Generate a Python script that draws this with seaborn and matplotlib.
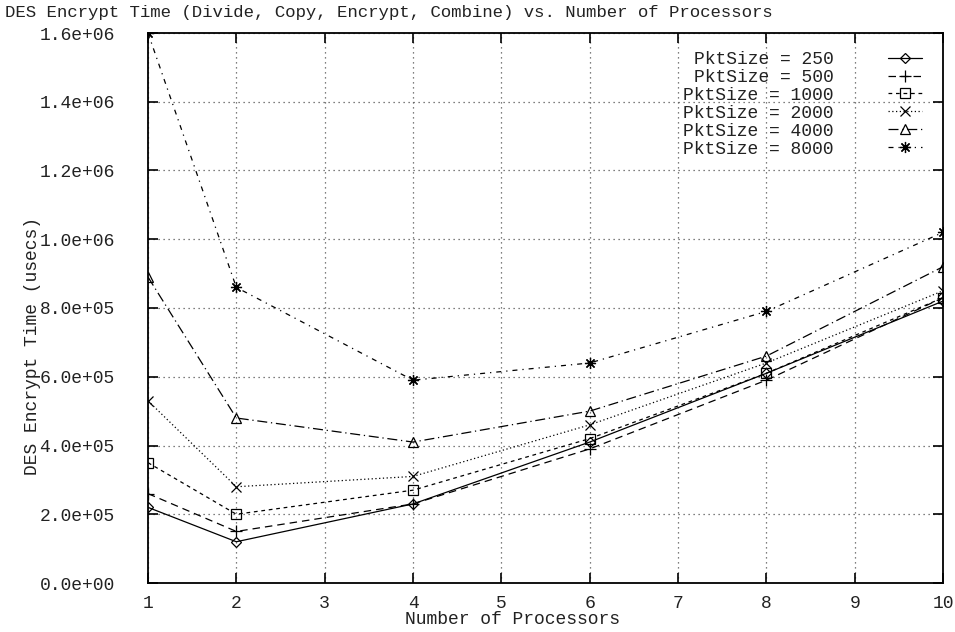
import matplotlib
matplotlib.use("Agg")
import matplotlib.pyplot as plt
import seaborn as sns
import numpy as np
import pandas as pd
from matplotlib.ticker import FormatStrFormatter, MultipleLocator

processors = [1, 2, 4, 6, 8, 10]
pkt_labels = ["PktSize = 250", "PktSize = 500", "PktSize = 1000",
              "PktSize = 2000", "PktSize = 4000", "PktSize = 8000"]
t250 = [2.2e5, 1.2e5, 2.3e5, 4.1e5, 6.1e5, 8.2e5]
t500 = [2.6e5, 1.5e5, 2.3e5, 3.9e5, 5.9e5, 8.3e5]
t1000 = [3.5e5, 2.0e5, 2.7e5, 4.2e5, 6.1e5, 8.3e5]
t2000 = [5.3e5, 2.8e5, 3.1e5, 4.6e5, 6.4e5, 8.5e5]
t4000 = [8.9e5, 4.8e5, 4.1e5, 5.0e5, 6.6e5, 9.2e5]
t8000 = [1.6e6, 8.6e5, 5.9e5, 6.4e5, 7.9e5, 1.02e6]
series = [t250, t500, t1000, t2000, t4000, t8000]

title = "DES Encrypt Time (Divide, Copy, Encrypt, Combine) vs. Number of Processors"
xlabel = "Number of Processors"
ylabel = "DES Encrypt Time (usecs)"

sns.set_theme(style="ticks")
plt.rcParams['font.family'] = ['Liberation Mono', 'DejaVu Sans Mono']

styles = [
    dict(marker="D", markersize=5, markerfacecolor="none", linestyle="-"),
    dict(marker="+", markersize=8, linestyle=(0, (6, 4))),
    dict(marker="s", markersize=7, markerfacecolor="none", linestyle=(0, (3, 3))),
    dict(marker="x", markersize=7, linestyle=(0, (1, 2))),
    dict(marker="^", markersize=7, markerfacecolor="none", linestyle=(0, (8, 3, 1, 3))),
    dict(marker=(8, 2, 0), markersize=8, linestyle=(0, (4, 4, 1, 4))),
]

W, H = 955, 632
fig = plt.figure(figsize=(W / 100, H / 100), dpi=100)
left, right, top, bottom = 148, 943, 33, 583
ax = fig.add_axes([left / W, 1 - bottom / H, (right - left) / W, (bottom - top) / H])

for lab, vals, st in zip(pkt_labels, series, styles):
    df = pd.DataFrame({"p": processors, "t": vals})
    sns.lineplot(data=df, x="p", y="t", ax=ax, color="black", linewidth=0.9,
                 markeredgecolor="black", markeredgewidth=0.9, label=lab, **st)

ax.set_xlim(1, 10)
ax.set_ylim(0, 1.6e6)
ax.xaxis.set_major_locator(MultipleLocator(1))
ax.yaxis.set_major_locator(MultipleLocator(2e5))
ax.yaxis.set_major_formatter(FormatStrFormatter("%.1e"))
ax.grid(True, linestyle=(0, (1, 3)), color="#555555", linewidth=0.9)
ax.set_axisbelow(True)
for s in ax.spines.values():
    s.set_visible(True)
    s.set_color("black")
    s.set_linewidth(1.3)
ax.tick_params(axis="both", which="major", direction="in", length=7, width=1.2,
               top=True, right=True, labelsize=13, colors="black", labelcolor="#222222")
ax.tick_params(axis="y", pad=24)
ax.tick_params(axis="x", pad=9)
ax.set_xlabel("")
ax.set_ylabel("")

fig.text(5 / W, 1 - 13 / H, title, ha="left", va="center", fontsize=12.5, color="#222222")
fig.text(512 / W, 1 - 620 / H, xlabel, ha="center", va="center", fontsize=13, color="#222222")
fig.text(33 / W, 1 - 346 / H, ylabel, ha="center", va="center", rotation=90, fontsize=13, color="#222222")

leg = ax.legend(loc="upper right", bbox_to_anchor=((922 - left) / (right - left), (bottom - 51) / (bottom - top)),
                frameon=False, markerfirst=False, borderpad=0, borderaxespad=0,
                handlelength=1.9, handletextpad=3.0, labelspacing=0.05, fontsize=13, numpoints=1)
for t in leg.get_texts():
    t.set_color("#222222")

fig.savefig("out.png", dpi=100)
